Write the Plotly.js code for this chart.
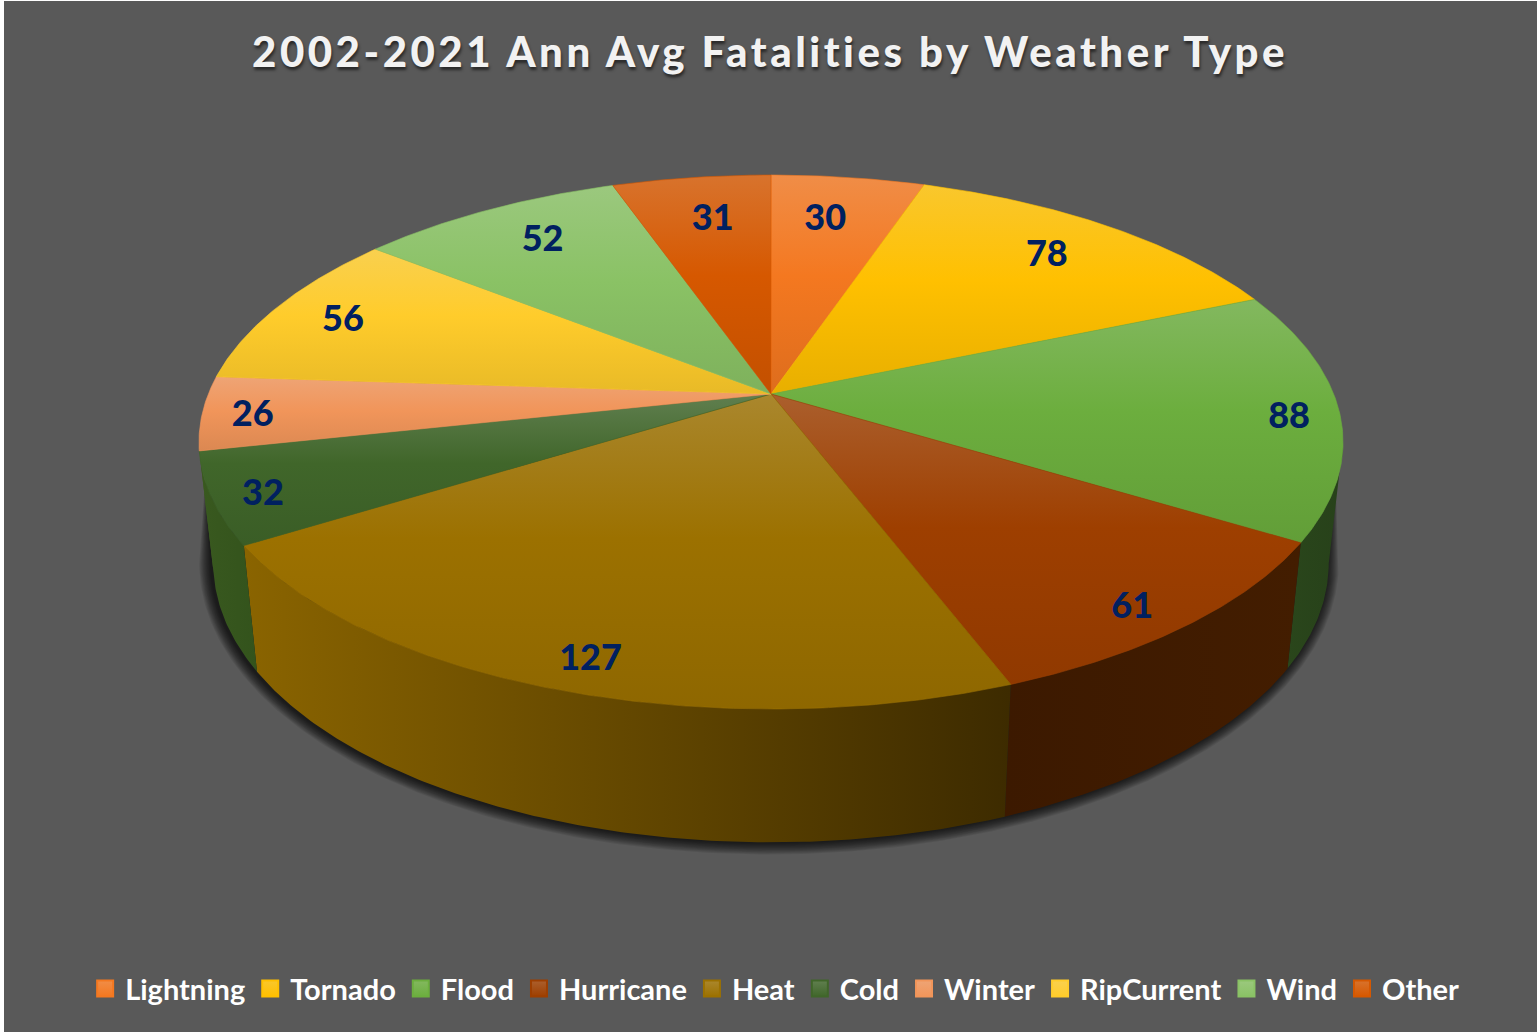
<!DOCTYPE html>
<html>
<head>
<meta charset="utf-8">
<title>Weather fatalities</title>
<script src="https://cdn.plot.ly/plotly-3.0.1.min.js"></script>
<style>
  html, body { margin: 0; padding: 0; background: #ffffff; }
  #chart { position: absolute; left: 4px; top: 1px; width: 1533px; height: 1031px; }
  .gtitle { letter-spacing: 3.5px; }
</style>
</head>
<body>
<div id="chart"></div>
<script>
// Annual average fatalities per weather type
const categories = ['Lightning', 'Tornado', 'Flood', 'Hurricane', 'Heat', 'Cold', 'Winter', 'RipCurrent', 'Wind', 'Other'];
const fatalities = [30, 78, 88, 61, 127, 32, 26, 56, 52, 31];

// Slice colours: top face base colour and the side wall's left and right shades
const topColors = ['#F47820', '#FFC000', '#6CAE3E', '#9E3F00', '#9C7100', '#40662A', '#F1955A', '#FFCC2B', '#8AC265', '#D65800'];
const wallLeft = ['#8a4a14', '#8a6a00', '#2A461B', '#3C1900', '#8A6400', '#39591F', '#39591F', '#8a7018', '#4c6a38', '#7a3400'];
const wallRight = ['#8a4a14', '#8a6a00', '#27411A', '#431D00', '#3D2B00', '#33531C', '#39591F', '#8a7018', '#4c6a38', '#7a3400'];

// Value label placement inside each slice: radial fraction and angular nudge in degrees
const labelRadius = [0.79, 0.813, 0.911, 0.906, 0.902, 0.917, 0.912, 0.861, 0.816, 0.79];
const labelNudge = [-1.3, -0.8, 0.85, 1.5, -1.1, -0.7, -0.4, -0.1, 1.4, 1.0];
const labelDrop = 4;

// Camera model for the tilted disc: unit circle mapped to pixels by a projective transform
const cx = 771, cy = 394, rad = 562.7, persp = -0.1798, tilt = 187.5;
const wallScale = 0.975;
// Bearings at which the rim turns from the back of the disc to the front
const frontStart = 100.4, frontEnd = 259.6;

function project(deg, r) {
  const a = deg * Math.PI / 180;
  const u = r * Math.sin(a), v = -r * Math.cos(a);
  const w = 1 + persp * v;
  return [cx + rad * u / w, (tilt * v + cy) / w];
}
function drop(p) {
  return [cx + (p[0] - cx) * wallScale, p[1] + 126 + 0.045 * (p[1] - 545)];
}
function arc(a0, a1) {
  const n = Math.max(2, Math.ceil((a1 - a0) * 2));
  const pts = [];
  for (let i = 0; i <= n; i++) pts.push(project(a0 + (a1 - a0) * i / n, 1));
  return pts;
}
function mix(hex, target, t) {
  const c = [1, 3, 5].map(i => parseInt(hex.substr(i, 2), 16));
  const m = c.map(k => Math.round(k + (target - k) * t));
  return `rgb(${m[0]},${m[1]},${m[2]})`;
}

const total = fatalities.reduce((s, v) => s + v, 0);
let running = 0;
const spans = fatalities.map(v => {
  const s = [running / total * 360, (running + v) / total * 360];
  running += v;
  return s;
});

const traces = [];
const hidden = { showlegend: false, hoverinfo: 'skip', mode: 'lines', fill: 'toself' };

// Soft shadow below the disc: stacked translucent rings that taper off behind the shoulders
const rimFront = arc(frontStart, frontEnd).map(drop);
const shoulderR = project(frontStart, 1), shoulderL = project(frontEnd, 1);
for (let e = 12; e >= 1; e--) {
  const xs = rimFront.map(p => cx - 2 + (p[0] - cx) * (1 + e / 558));
  const ys = rimFront.map(p => 565 + (p[1] - 565) * (1 + e / 275));
  traces.push(Object.assign({}, hidden, {
    x: [shoulderR[0] - 8].concat(xs, [shoulderL[0] + 8]),
    y: [shoulderR[1] + 10].concat(ys, [shoulderL[1] + 10]),
    line: { width: 0 },
    fillcolor: 'rgba(0,0,0,0.085)'
  }));
}

// Side walls, limited to the part of the rim that faces the viewer
spans.forEach((s, i) => {
  const a0 = Math.max(s[0], frontStart), a1 = Math.min(s[1], frontEnd);
  if (a1 <= a0) return;
  const top = arc(a0, a1);
  const pts = top.concat(top.map(drop).reverse());
  pts.push(pts[0]);
  traces.push(Object.assign({}, hidden, {
    x: pts.map(p => p[0]),
    y: pts.map(p => p[1]),
    line: { width: 0 },
    fillgradient: {
      type: 'horizontal',
      colorscale: [[0, wallLeft[i]], [1, wallRight[i]]]
    }
  }));
});

// Top faces
spans.forEach((s, i) => {
  const rim = arc(s[0], s[1]);
  const pts = [[cx, cy]].concat(rim, [[cx, cy]]);
  const ys = pts.map(p => p[1]);
  traces.push(Object.assign({}, hidden, {
    x: pts.map(p => p[0]),
    y: ys,
    line: { width: 0.6, color: topColors[i] },
    fillgradient: {
      type: 'vertical',
      start: Math.min(...ys),
      stop: Math.max(...ys),
      colorscale: [
        [0, mix(topColors[i], 225, 0.2)],
        [0.46, topColors[i]],
        [1, mix(topColors[i], 0, 0.09)]
      ]
    }
  }));
});

// Value labels
const labelPts = spans.map((s, i) => project((s[0] + s[1]) / 2 + labelNudge[i], labelRadius[i]));
traces.push({
  x: labelPts.map(p => p[0]),
  y: labelPts.map(p => p[1] + labelDrop),
  text: fatalities.map(String),
  mode: 'text',
  textposition: 'middle center',
  textfont: { family: 'Lato, sans-serif', size: 36, weight: 900, color: '#002060' },
  showlegend: false,
  hoverinfo: 'skip'
});

// Legend entries
categories.forEach((name, i) => {
  traces.push({
    x: [null],
    y: [null],
    name,
    mode: 'markers',
    marker: {
      symbol: 'square',
      size: 16,
      color: mix(topColors[i], 225, 0.2),
      gradient: { type: 'vertical', color: topColors[i] },
      line: { width: 2, color: topColors[i] }
    },
    showlegend: true
  });
});

const layout = {
  width: 1533,
  height: 1031,
  margin: { l: 0, r: 0, t: 0, b: 0 },
  paper_bgcolor: '#595959',
  plot_bgcolor: '#595959',
  showlegend: true,
  title: {
    text: '2002-2021 Ann Avg Fatalities by Weather Type',
    x: 0.4997,
    xanchor: 'center',
    y: 0.95,
    yanchor: 'middle',
    font: {
      family: 'Lato, sans-serif',
      size: 42,
      weight: 900,
      color: '#F2F2F2',
      shadow: '1px 3px 3px rgba(0,0,0,0.55)'
    }
  },
  xaxis: { range: [4, 1537], visible: false, fixedrange: true },
  yaxis: { range: [1032, 1], visible: false, fixedrange: true },
  legend: {
    orientation: 'h',
    x: 0.5027,
    xanchor: 'center',
    y: 0.042,
    yanchor: 'middle',
    font: { family: 'Lato, sans-serif', size: 29, weight: 700, color: '#FFFFFF' },
    bgcolor: 'rgba(0,0,0,0)',
    itemclick: false,
    itemdoubleclick: false
  }
};

Plotly.newPlot('chart', traces, layout, { displayModeBar: false, staticPlot: true });
</script>
</body>
</html>
